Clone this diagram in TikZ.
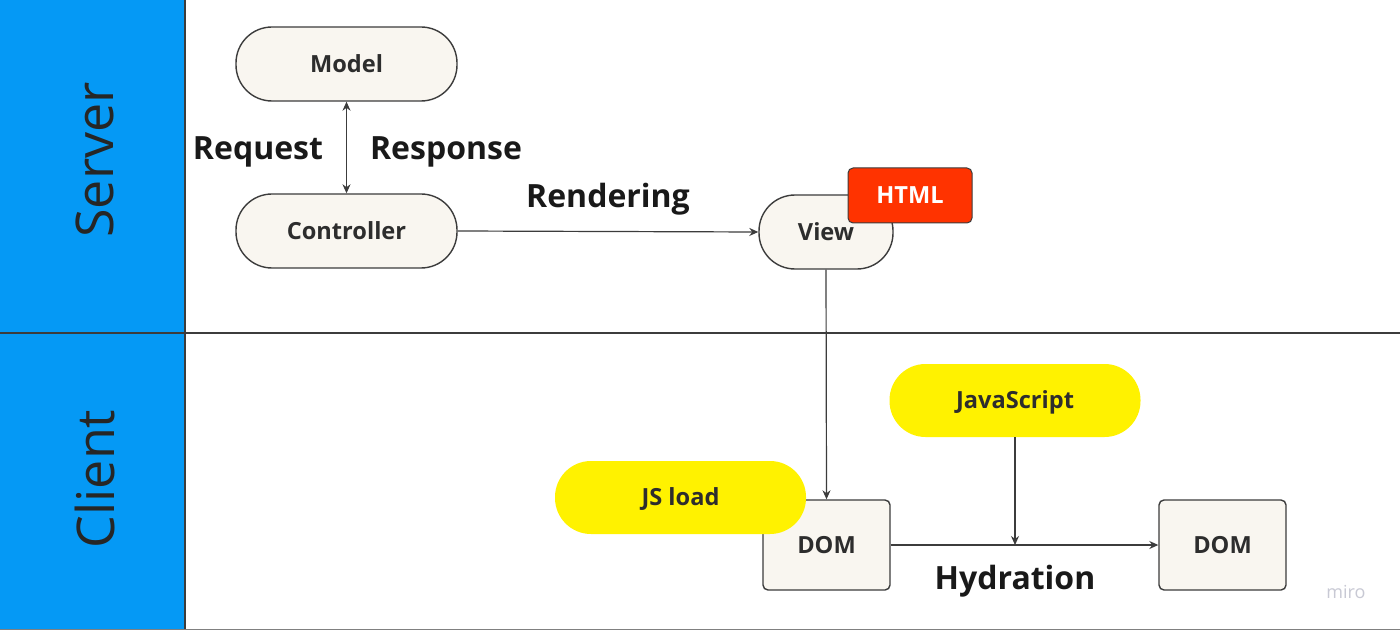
\documentclass[tikz,border=0pt]{standalone}
\usepackage{fontspec}
\setmainfont{Open Sans}
\usetikzlibrary{arrows.meta}
\definecolor{laneblue}{RGB}{5,153,245}
\definecolor{nodefill}{RGB}{249,246,240}
\definecolor{nodeline}{RGB}{60,60,60}
\definecolor{txt}{RGB}{45,45,45}
\definecolor{jsyellow}{RGB}{255,242,0}
\definecolor{htmlred}{RGB}{255,51,0}
\definecolor{mirogray}{RGB}{200,201,212}
\tikzset{
  nodetext/.style={font=\fontsize{11.8}{13}\selectfont\bfseries, text=txt,
    text height=8.4pt, text depth=0pt},
  pill/.style={nodetext, draw=nodeline, line width=0.7pt, fill=nodefill, rounded corners=18pt,
    minimum height=37pt, inner sep=0pt},
  ypill/.style={nodetext, fill=jsyellow, rounded corners=18pt, minimum width=125.5pt,
    minimum height=36.5pt, inner sep=0pt},
  dombox/.style={nodetext, draw=nodeline, line width=0.7pt, fill=nodefill, rounded corners=2.5pt,
    minimum width=63.5pt, minimum height=45pt, inner sep=0pt},
  biglabel/.style={font=\fontsize{16}{19}\selectfont\bfseries, text=black!90, inner sep=0pt},
  lanelabel/.style={font=\fontsize{26}{30}\selectfont, text=black!85, rotate=90, inner sep=0pt},
  conn/.style={draw=nodeline, line width=0.6pt, -{Stealth[length=4.5pt,width=4pt]}},
}
\begin{document}
\begin{tikzpicture}[x=0.5pt,y=-0.5pt]
\useasboundingbox (0,0) rectangle (1400,630);
% lanes
\fill[white] (0,0) rectangle (1400,630);
\fill[laneblue] (0,0) rectangle (185,630);
\draw[nodeline, line width=0.6pt] (185,0) -- (185,630);
\draw[nodeline, line width=0.6pt] (0,333) -- (1400,333);
\draw[gray, line width=0.8pt] (0,629.5) -- (1400,629.5);
\node[lanelabel] (server) at (95,160) {Server};
\node[lanelabel] (client) at (95,479) {Client};
% server nodes
\node[pill, minimum width=110.5pt] (model) at (346.5,64) {Model};
\node[pill, minimum width=110.5pt] (controller) at (346.5,231) {Controller};
\node[pill, minimum width=67pt] (view) at (826,232) {View};
\node[nodetext, fill=htmlred, draw=nodeline, line width=0.5pt, rounded corners=2.5pt, minimum width=62pt,
  minimum height=27.5pt, inner sep=0pt, text=white]
  (html) at (910,195.5) {HTML};
\draw[draw=nodeline, line width=0.6pt, {Stealth[length=4.5pt,width=4pt]}-{Stealth[length=4.5pt,width=4pt]}]
  (model.south) -- (controller.north);
\node[biglabel] (request) at (258,152) {Request};
\node[biglabel] (response) at (446,152) {Response};
\node[biglabel] (rendering) at (608,199) {Rendering};
\draw[conn] (controller.east) -- (view.west);
% client nodes
\node[dombox] (dom1) at (826.5,545) {DOM};
\node[dombox] (dom2) at (1222.5,545) {DOM};
\node[ypill] (jsload) at (680.5,497.5) {JS load};
\node[ypill] (javascript) at (1015,400.5) {JavaScript};
\draw[conn] (view.south) -- (dom1.north);
\draw[conn] (dom1.east) -- (dom2.west);
\coordinate (hmid) at (1015,545);
\draw[conn] (javascript.south) -- (hmid);
\node[biglabel] (hydration) at (1015,581) {Hydration};
\node[font=\fontsize{9}{11}\selectfont, text=mirogray, inner sep=0pt] (miro) at (1346,592) {miro};
\end{tikzpicture}
\end{document}
